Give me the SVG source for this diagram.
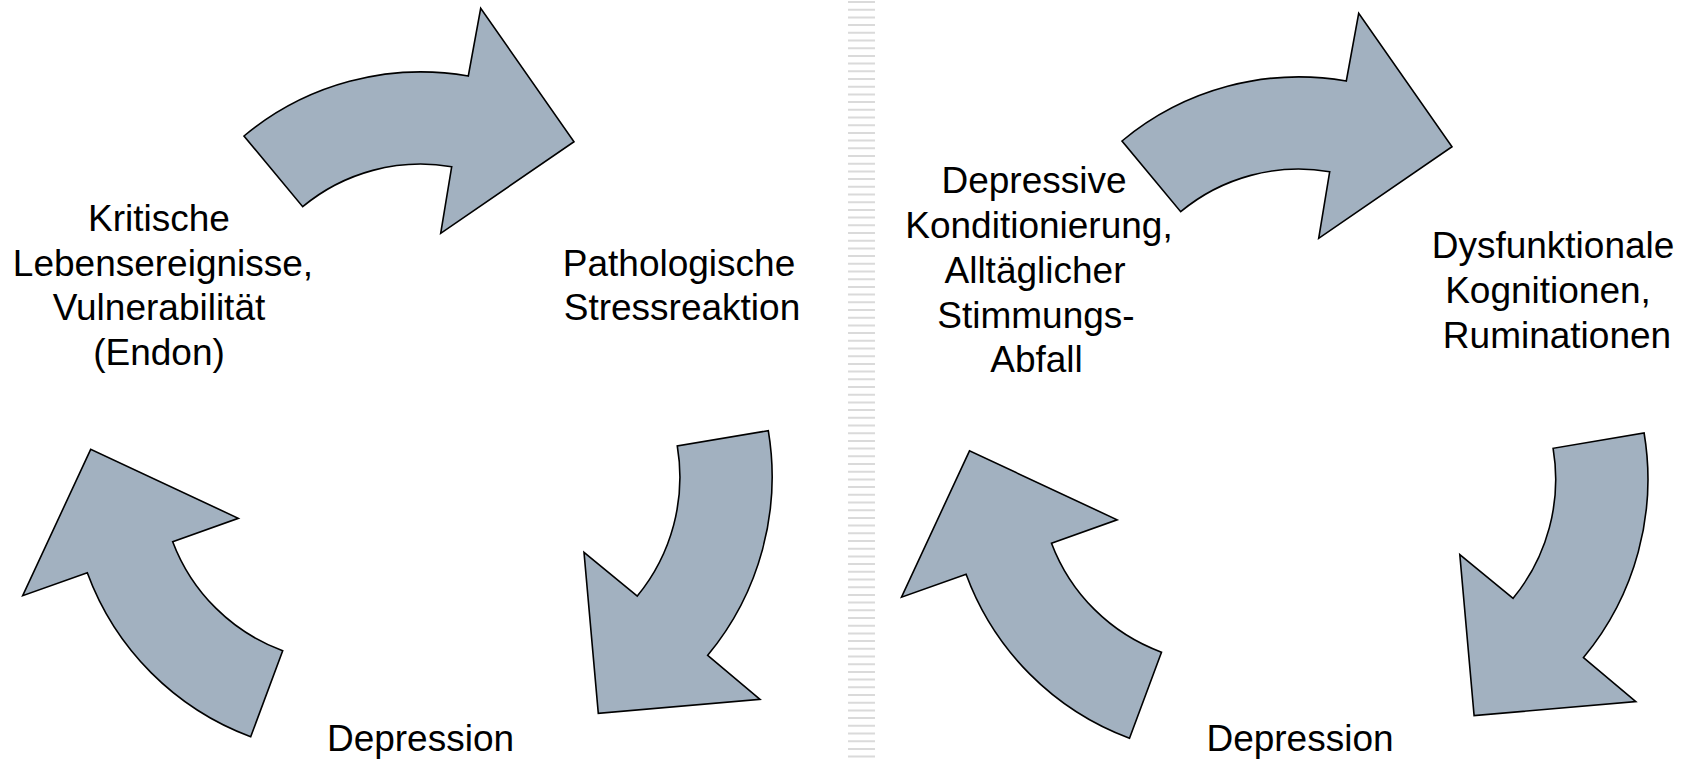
<svg xmlns="http://www.w3.org/2000/svg" width="1688" height="760" viewBox="0 0 1688 760">
<style>
  .arrow { fill: #a2b1c0; stroke: #000000; stroke-width: 1.6; stroke-linejoin: miter; }
  .lbl { font-family: "Liberation Sans", Arial, sans-serif; font-size: 37px; fill: #000000; text-anchor: middle; }
  .divider { stroke: #dadada; stroke-width: 27; stroke-dasharray: 2 5.7; fill: none; }
</style>
<defs>
  <path id="arrowTop" d="M 244,136 A 276.5,276.5 0 0 1 468.3,76 L 480.7,8.3 L 574,141.7 L 440.7,233.3 L 451.7,166.7 A 184.6,184.6 0 0 0 302.7,206.7 Z"/>
  <path id="arrowLeft" d="M 250.7,736.7 A 277,277 0 0 1 87.3,572.7 L 22.7,595.7 L 90.7,449.3 L 238.3,518.3 L 172.7,541.7 A 186,186 0 0 0 282.7,650.7 Z"/>
  <path id="arrowRight" d="M 768.3,430.7 A 279.5,279.5 0 0 1 707.7,655.3 L 760,699.3 L 598.3,713.3 L 584,552.3 L 637.3,596 A 187.3,187.3 0 0 0 677.3,446 Z"/>
</defs>
<rect x="0" y="0" width="1688" height="760" fill="#ffffff"/>
<g id="divider">
  <line class="divider" x1="861.5" y1="1" x2="861.5" y2="760"/>
</g>
<g id="connectors">
  <use href="#arrowTop" class="arrow"/>
  <use href="#arrowRight" class="arrow"/>
  <use href="#arrowLeft" class="arrow"/>
  <use href="#arrowTop" class="arrow" transform="translate(878,5)"/>
  <use href="#arrowRight" class="arrow" transform="translate(875.8,2.3)"/>
  <use href="#arrowLeft" class="arrow" transform="translate(878.8,1.5)"/>
</g>
<g id="node-kritische">
  <text class="lbl" x="159" y="231">Kritische</text>
  <text class="lbl" x="163" y="276">Lebensereignisse,</text>
  <text class="lbl" x="159" y="320">Vulnerabilität</text>
  <text class="lbl" x="159" y="365">(Endon)</text>
</g>
<g id="node-stress">
  <text class="lbl" x="679" y="276">Pathologische</text>
  <text class="lbl" x="682" y="320">Stressreaktion</text>
</g>
<g id="node-depression-left">
  <text class="lbl" x="420.5" y="751">Depression</text>
</g>
<g id="node-konditionierung">
  <text class="lbl" x="1034" y="193">Depressive</text>
  <text class="lbl" x="1039" y="238">Konditionierung,</text>
  <text class="lbl" x="1035" y="283">Alltäglicher</text>
  <text class="lbl" x="1036" y="328">Stimmungs-</text>
  <text class="lbl" x="1036.5" y="372">Abfall</text>
</g>
<g id="node-kognitionen">
  <text class="lbl" x="1553" y="258">Dysfunktionale</text>
  <text class="lbl" x="1548" y="303">Kognitionen,</text>
  <text class="lbl" x="1557" y="348">Ruminationen</text>
</g>
<g id="node-depression-right">
  <text class="lbl" x="1300" y="751">Depression</text>
</g>
</svg>
